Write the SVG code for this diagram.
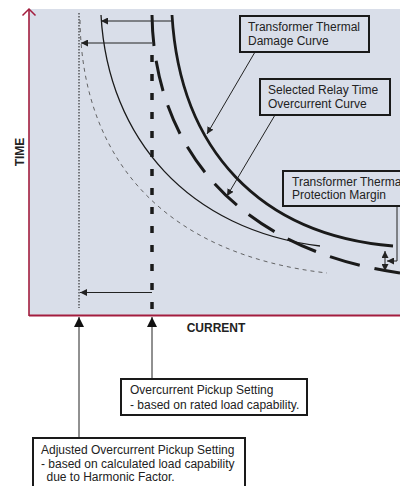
<svg xmlns="http://www.w3.org/2000/svg" width="400" height="486" viewBox="0 0 400 486">
<defs>
<style>
.lbl{font-family:"Liberation Sans",Arial,sans-serif;font-size:12px;fill:#222}
.ax{font-family:"Liberation Sans",Arial,sans-serif;font-size:12px;font-weight:bold;fill:#222}
.box{stroke:#1a1a1a;stroke-width:2}
.ptr{stroke:#222;stroke-width:1;fill:none}
</style>
<marker id="ah" viewBox="0 0 10 10" refX="10" refY="5" markerWidth="7" markerHeight="7" orient="auto-start-reverse" markerUnits="userSpaceOnUse"><path d="M0,0 L10,5 L0,10 z" fill="#222"/></marker>
<marker id="ahL" viewBox="0 0 10 10" refX="10" refY="5" markerWidth="10" markerHeight="10" orient="auto-start-reverse" markerUnits="userSpaceOnUse"><path d="M0,0 L10,5 L0,10 z" fill="#111"/></marker>
</defs>
<rect width="400" height="486" fill="#fff"/>
<g id="chart">
<rect x="29" y="9" width="371" height="307" fill="#d9dee9"/>
<path d="M29,316 L29,9" stroke="#a31d3e" stroke-width="1.6" fill="none"/>
<path d="M22.5,15.5 L29,9 L35.5,15.5" stroke="#a31d3e" stroke-width="1.5" fill="none"/>
<path d="M29,315.5 L400,315.5" stroke="#a31d3e" stroke-width="1.8"/>
<text class="ax" transform="translate(24,152) rotate(-90)" text-anchor="middle">TIME</text>
<text class="ax" x="216" y="332" text-anchor="middle">CURRENT</text>
</g>
<g id="curves">
<path id="adjusted-pickup" d="M79,13 L79,308" stroke="#111" stroke-width="1" stroke-dasharray="1.5 1.5" fill="none"/>
<path id="rated-pickup" d="M152,55 L152,309" stroke="#1a1a1a" stroke-width="3.5" stroke-dasharray="7 12" fill="none"/>
<path id="adjusted-curve" d="M80,20 C82,165 170,255 327,273" stroke="#555" stroke-width="0.9" stroke-dasharray="4 4" fill="none"/>
<path id="thin-curve" d="M101,15 C108,140 190,230 320,246" stroke="#1a1a1a" stroke-width="1.3" fill="none"/>
<path id="damage-curve" d="M172,15 C180,150 260,235 393,246" stroke="#1a1a1a" stroke-width="2.8" fill="none"/>
<path id="relay-curve" d="M152,15 C154,150 240,250 400,273" stroke="#1a1a1a" stroke-width="3" stroke-dasharray="31 15" fill="none"/>
</g>
<g id="connectors">
<path class="ptr" d="M172,21 L101,21" marker-end="url(#ah)"/>
<path class="ptr" d="M152,43 L81,43" marker-end="url(#ah)"/>
<path class="ptr" d="M152,292.5 L80,292.5" marker-end="url(#ah)"/>
<path class="ptr" d="M255,52 L207,134" marker-end="url(#ah)"/>
<path class="ptr" d="M275,115 L227,196" marker-end="url(#ah)"/>
<path class="ptr" d="M397,206 L397,261 L387,261" marker-end="url(#ah)"/>
<path class="ptr" d="M385,251 L385,271" marker-start="url(#ah)" marker-end="url(#ah)"/>
<path class="ptr" d="M152,379 L152,317" marker-end="url(#ahL)"/>
<path class="ptr" d="M79,438 L79,317" marker-end="url(#ahL)"/>
</g>
<g id="damage-label">
<rect class="box" x="240" y="16" width="129" height="36" fill="#d9dee9"/>
<text class="lbl" x="248" y="31">Transformer Thermal</text>
<text class="lbl" x="248" y="45">Damage Curve</text>
</g>
<g id="relay-label">
<rect class="box" x="260" y="79" width="130" height="36" fill="#d9dee9"/>
<text class="lbl" x="268" y="94">Selected Relay Time</text>
<text class="lbl" x="268" y="107.5">Overcurrent Curve</text>
</g>
<g id="margin-label">
<rect class="box" x="283" y="171" width="130" height="35" fill="#d9dee9"/>
<text class="lbl" x="292" y="185.5">Transformer Thermal</text>
<text class="lbl" x="292" y="199">Protection Margin</text>
</g>
<g id="pickup-label">
<rect class="box" x="121" y="379" width="186" height="36" fill="#fff"/>
<text class="lbl" x="130" y="394">Overcurrent Pickup Setting</text>
<text class="lbl" x="130" y="408.5">- based on rated load capability.</text>
</g>
<g id="adjusted-label">
<rect class="box" x="33" y="438" width="212" height="56" fill="#fff"/>
<text class="lbl" x="41" y="453.5">Adjusted Overcurrent Pickup Setting</text>
<text class="lbl" x="41" y="467.5">- based on calculated load capability</text>
<text class="lbl" x="46.5" y="481">due to Harmonic Factor.</text>
</g>
</svg>
